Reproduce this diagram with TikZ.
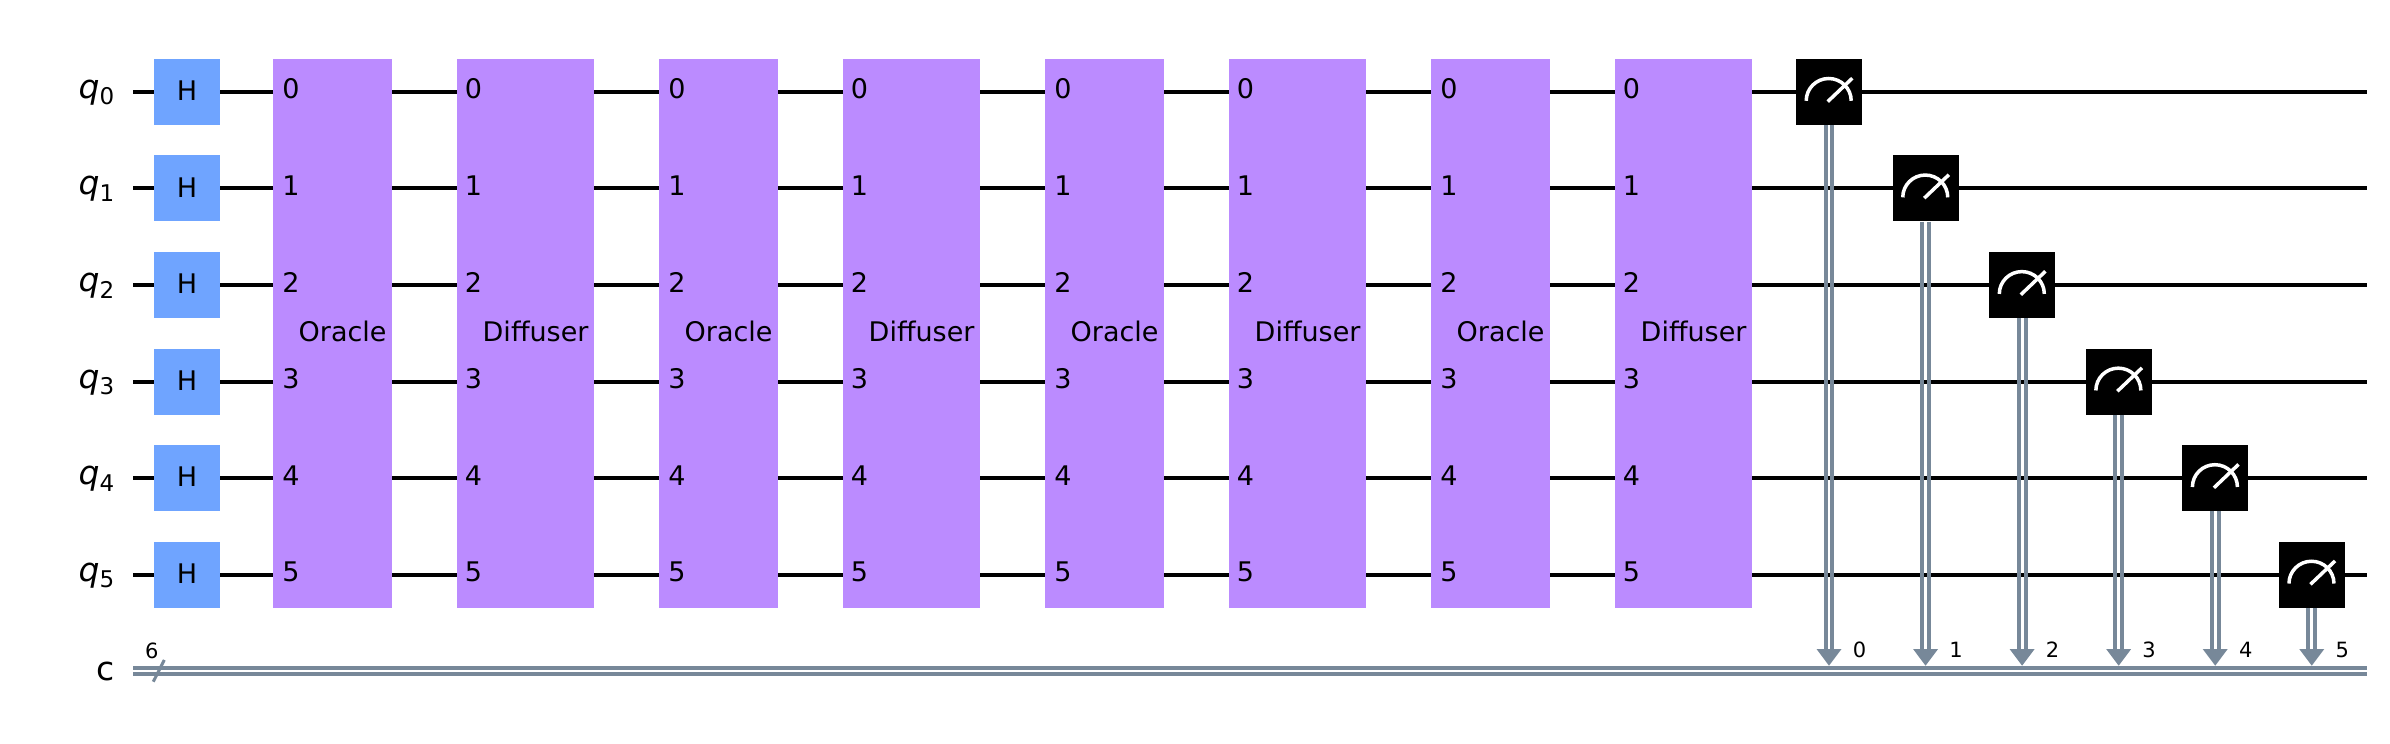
\documentclass[tikz,border=0pt]{standalone}
\usepackage{fontspec}
\setmainfont{DejaVu Sans}
\definecolor{clgray}{HTML}{778899}
\definecolor{hblue}{HTML}{6FA4FF}
\definecolor{gatepurple}{HTML}{BB8BFF}
\begin{document}
\begin{tikzpicture}[x=1pt,y=1pt,
  wire/.style={line width=4pt,black},
  clwire/.style={line width=4pt,clgray},
  hgate/.style={fill=hblue,minimum width=66pt,minimum height=66pt,inner sep=0pt,font=\fontsize{27}{27}\selectfont},
  tallgate/.style={fill=gatepurple,anchor=north west,minimum height=548.7pt,inner sep=0pt},
  meas/.style={fill=black,minimum width=66pt,minimum height=66pt,inner sep=0pt},
  idx/.style={anchor=base,inner sep=0pt,font=\fontsize{27}{27}\selectfont},
  small/.style={anchor=base,inner sep=0pt,font=\fontsize{21}{21}\selectfont},
  reglabel/.style={anchor=base east,inner sep=0pt,font=\fontsize{33}{33}\selectfont},
  needle/.style={line width=3.5pt,white}]
\useasboundingbox (0,0) rectangle (2390,-744);
\fill[white] (0,0) rectangle (2390,-744);
% wires
\foreach \i in {0,...,5}{
  \pgfmathsetmacro\yy{-(91.9+96.55*\i)}
  \coordinate (ws\i) at (133,\yy);
  \coordinate (we\i) at (2367,\yy);
  \draw[wire] (ws\i) -- (we\i);
}
\coordinate (cs) at (133,-671.2);
\coordinate (ce) at (2367,-671.2);
\draw[clwire] ([yshift=2.9pt]cs) -- ([yshift=2.9pt]ce);
\draw[clwire] ([yshift=-2.9pt]cs) -- ([yshift=-2.9pt]ce);
% register labels and H gates
\foreach \i in {0,...,5}{
  \pgfmathsetmacro\yy{-(91.9+96.55*\i)}
  \node[reglabel] (q\i) at (114.5,\yy-6.5) {{\itshape q}\raisebox{-6.5pt}{\fontsize{23}{23}\selectfont \i}};
  \node[hgate] (h\i) at (187,\yy) {\raisebox{2.5pt}{H}};
}
\node[reglabel] (clab) at (114.5,-680.8) {c};
\node[small] (six) at (151.8,-658) {6};
\coordinate (sa) at (153.3,-681.7);
\coordinate (sb) at (164.3,-660);
\draw[line width=3pt,clgray] (sa) -- (sb);
% composite gates
\foreach \k/\xa/\xb in {0/273/457,1/659/843,2/1045/1229,3/1431/1615}{
  \node[tallgate,minimum width=118.5pt] (or\k) at (\xa,-59) {};
  \node[tallgate,minimum width=137pt] (di\k) at (\xb,-59) {};
  \node[idx,anchor=base west] (ort\k) at (\xa+25.5,-341) {Oracle};
  \node[idx,anchor=base west] (dit\k) at (\xb+25.5,-341) {Diffuser};
  \foreach \i in {0,...,5}{
    \pgfmathsetmacro\yy{-(91.9+96.55*\i+7)}
    \node[idx] (ori\k\i) at (\xa+18,\yy) {\i};
    \node[idx] (dii\k\i) at (\xb+16.5,\yy) {\i};
  }
}
% measurements
\foreach \i in {0,...,5}{
  \pgfmathsetmacro\yy{-(91.9+96.55*\i)}
  \pgfmathsetmacro\xx{1829+96.55*\i}
  \node[meas] (m\i) at (\xx,\yy) {};
  \coordinate (t\i) at (\xx,-665.7);
  \draw[clwire] ([xshift=-3.4pt]m\i.south) -- ([xshift=-3.4pt]t\i |- 0,-652);
  \draw[clwire] ([xshift=3.4pt]m\i.south) -- ([xshift=3.4pt]t\i |- 0,-652);
  \fill[clgray] (t\i) -- ++(-12.5,16.7) -- ++(25,0) -- cycle;
  \draw[needle] ([shift={(-22.8,-8.9)}]m\i.center) arc (180:0:22.5 and 22.3);
  \draw[needle] ([shift={(-1.3,-9.7)}]m\i.center) -- ([shift={(23.3,13.7)}]m\i.center);
  \node[small] (cb\i) at (\xx+30.5,-657.9) {\i};
}
\end{tikzpicture}
\end{document}
